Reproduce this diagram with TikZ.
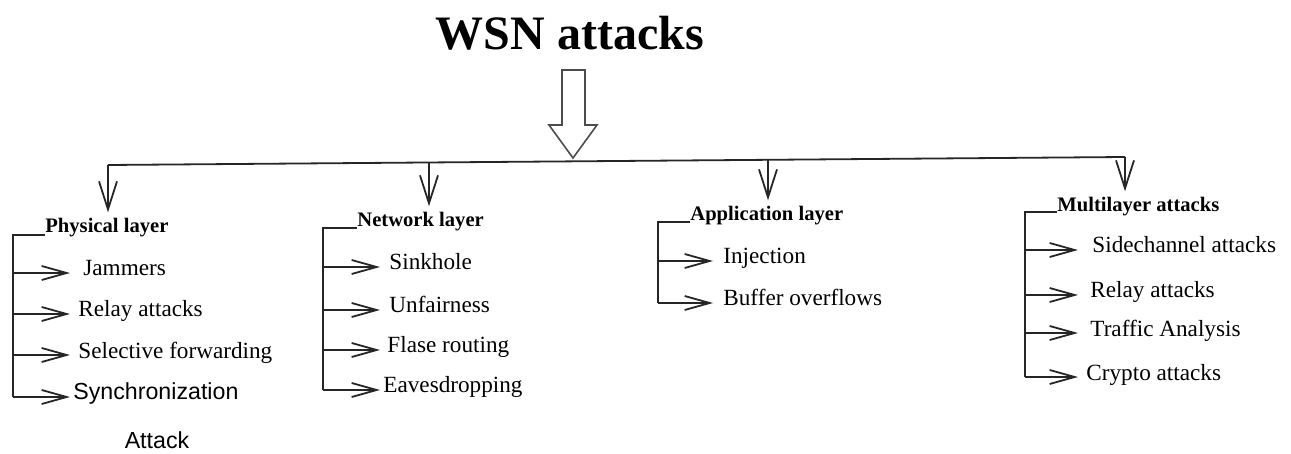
\documentclass[tikz,border=0pt]{standalone}
\usepackage{fontspec}
\setmainfont{Liberation Serif}
\setsansfont{Liberation Sans}
\usetikzlibrary{arrows.meta}
\begin{document}
\begin{tikzpicture}[x=0.5pt,y=-0.5pt,
  line/.style={line width=0.9pt, draw=black!85},
  iarr/.style={line, -{Straight Barb[length=12.5pt,width=7pt]}},
  darr/.style={line, shorten >=3pt, -{Straight Barb[length=14pt,width=9pt]}},
  hdr/.style={font=\fontsize{10.3}{12}\selectfont\bfseries, inner sep=0pt, anchor=base west},
  itm/.style={font=\fontsize{11.6}{13}\selectfont, inner sep=0pt, anchor=west, text height=5pt, text depth=2pt},
  sitm/.style={itm, font=\sffamily\fontsize{11.6}{13}\selectfont},
  hollow/.style={line width=0.8pt, draw=black!70, fill=white},
]
\useasboundingbox (0,0) rectangle (1291,454);

% title and hollow arrow
\node[font=\fontsize{24}{28}\selectfont\bfseries, anchor=base, inner sep=0pt] (title) at (570,50) {WSN attacks};
\draw[hollow] (562,70) -- (585,70) -- (585,125) -- (597,125) -- (573,158) -- (549,125) -- (562,125) -- cycle;

% bus
\coordinate (b1) at (108,165);
\coordinate (b2) at (429,162.5);
\coordinate (b3) at (768,159.8);
\coordinate (b4) at (1125,157);
\draw[line] (b1) -- (b4);

% headers
\node[hdr] (h1) at (45,233) {Physical layer};
\node[hdr] (h2) at (357,227) {Network layer};
\node[hdr] (h3) at (690,221) {Application layer};
\node[hdr] (h4) at (1057,212) {Multilayer attacks};

\draw[darr] (b1) -- (b1 |- h1.north);
\draw[darr] (b2) -- (b2 |- h2.north);
\draw[darr] (b3) -- (b3 |- h3.north);
\draw[darr] (b4) -- (b4 |- h4.north);

% Physical layer
\coordinate (v1) at (13,235);
\coordinate (e1) at (70,0);
\node[itm] (p1) at (83,273) {Jammers};
\node[itm] (p2) at (78,314) {Relay attacks};
\node[itm] (p3) at (78,355) {Selective forwarding};
\node[sitm] (p4) at (73,397) {Synchronization};
\node[font=\sffamily\fontsize{11.6}{13}\selectfont, anchor=base, inner sep=0pt] (p5) at (157,448) {Attack};
\draw[line] (h1.base west |- v1) -- (v1) -- (v1 |- p4);
\foreach \n in {p1,p2,p3,p4} \draw[iarr] (v1 |- \n) -- (e1 |- \n);

% Network layer
\coordinate (v2) at (323,228);
\coordinate (e2) at (380,0);
\node[itm] (n1) at (389,267) {Sinkhole};
\node[itm] (n2) at (389,310) {Unfairness};
\node[itm] (n3) at (387,350) {Flase routing};
\node[itm] (n4) at (383,390) {Eavesdropping};
\draw[line] (h2.base west |- v2) -- (v2) -- (v2 |- n4);
\foreach \n in {n1,n2,n3,n4} \draw[iarr] (v2 |- \n) -- (e2 |- \n);

% Application layer
\coordinate (v3) at (658,222);
\coordinate (e3) at (713,0);
\node[itm] (a1) at (723,261) {Injection};
\node[itm] (a2) at (723,303) {Buffer overflows};
\draw[line] (h3.base west |- v3) -- (v3) -- (v3 |- a2);
\foreach \n in {a1,a2} \draw[iarr] (v3 |- \n) -- (e3 |- \n);

% Multilayer attacks
\coordinate (v4) at (1025,212);
\coordinate (e4) at (1078,0);
\node[itm] (m1) at (1092,250) {Sidechannel attacks};
\node[itm] (m2) at (1090,295) {Relay attacks};
\node[itm] (m3) at (1090,333) {Traffic Analysis};
\node[itm] (m4) at (1086,377) {Crypto attacks};
\draw[line] (h4.base west |- v4) -- (v4) -- (v4 |- m4);
\foreach \n in {m1,m2,m3,m4} \draw[iarr] (v4 |- \n) -- (e4 |- \n);
\end{tikzpicture}
\end{document}
